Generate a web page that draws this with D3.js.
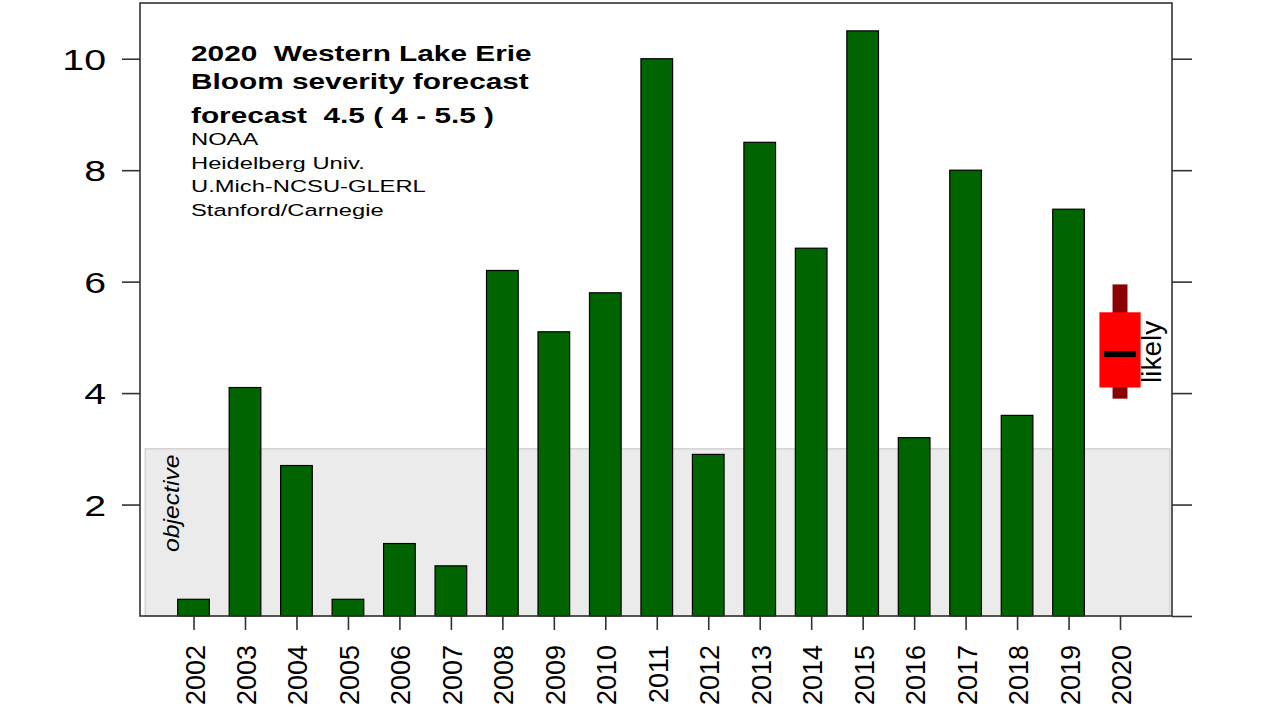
<!DOCTYPE html>
<html>
<head>
<meta charset="utf-8">
<script src="https://cdn.jsdelivr.net/npm/d3@7"></script>
<style>
  html, body { margin: 0; padding: 0; background: #fff; }
  svg { display: block; font-family: "Liberation Sans", Arial, Helvetica, sans-serif; }
  text { white-space: pre; }
</style>
</head>
<body>
<svg id="chart" width="1280" height="720"></svg>
<script>
// ---- data ----
const years = ["2002","2003","2004","2005","2006","2007","2008","2009","2010","2011","2012","2013","2014","2015","2016","2017","2018","2019","2020"];
const severity = [0.3, 4.1, 2.7, 0.3, 1.3, 0.9, 6.2, 5.1, 5.8, 10.0, 2.9, 8.5, 6.6, 10.5, 3.2, 8.0, 3.6, 7.3];
const forecastYear = "2020";
const forecastValue = 4.7;
const forecastRange = [3.9, 5.95];
const likelyRange = [4.1, 5.45];
const objective = 3;
const yTicksLeft = [2, 4, 6, 8, 10];
const yTicksRight = [0, 2, 4, 6, 8, 10];
const titleLines = ["2020  Western Lake Erie", "Bloom severity forecast", "forecast  4.5 ( 4 - 5.5 )"];
const creditLines = ["NOAA", "Heidelberg Univ.", "U.Mich-NCSU-GLERL", "Stanford/Carnegie"];

(function () {
// ---- layout ----
const svg = d3.select("#chart");
const pL = 140, pR = 1172, pT = 3, pB = 616;
const x = d3.scaleLinear().domain([-1.04, 19.01]).range([pL, pR]);
const y = d3.scaleLinear().domain([0, 11]).range([pB, pT]);
const barW = x(0.615) - x(0);
const idx = years.map((d, i) => i);

// objective band
svg.append("rect")
  .attr("x", x(-0.94)).attr("y", y(objective))
  .attr("width", x(18.97) - x(-0.94)).attr("height", y(0) - y(objective))
  .attr("fill", "#ebebeb").attr("stroke", "#c4c4c4").attr("stroke-width", 1);

// bars
svg.append("g").selectAll("rect").data(severity).join("rect")
  .attr("x", (d, i) => x(i) - barW / 2)
  .attr("y", d => y(d))
  .attr("width", barW)
  .attr("height", d => y(0) - y(d))
  .attr("fill", "#006400")
  .attr("stroke", "#000").attr("stroke-width", 1.2);

// forecast marker
const fi = years.indexOf(forecastYear);
svg.append("rect")
  .attr("x", x(fi) - (x(0.29) - x(0)) / 2).attr("y", y(forecastRange[1]))
  .attr("width", x(0.29) - x(0)).attr("height", y(forecastRange[0]) - y(forecastRange[1]))
  .attr("fill", "#8b0000");
svg.append("rect")
  .attr("x", x(fi) - (x(0.8) - x(0)) / 2).attr("y", y(likelyRange[1]))
  .attr("width", x(0.8) - x(0)).attr("height", y(likelyRange[0]) - y(likelyRange[1]))
  .attr("fill", "#ff0000");
svg.append("line")
  .attr("x1", x(fi) - (x(0.62) - x(0)) / 2).attr("x2", x(fi) + (x(0.62) - x(0)) / 2)
  .attr("y1", y(forecastValue)).attr("y2", y(forecastValue))
  .attr("stroke", "#000").attr("stroke-width", 6);

// frame
svg.append("rect")
  .attr("x", pL).attr("y", pT).attr("width", pR - pL).attr("height", pB - pT)
  .attr("fill", "none").attr("stroke", "#333").attr("stroke-width", 1.6);

// left axis
const gl = svg.append("g").attr("transform", `translate(${pL},0)`)
  .call(d3.axisLeft(y).tickValues(yTicksLeft).tickSize(18).tickFormat(d3.format("d")));
gl.select(".domain").remove();
gl.selectAll("line").attr("stroke", "#333").attr("stroke-width", 1.6);
gl.selectAll("text")
  .attr("x", null).attr("dy", null)
  .attr("text-anchor", "end")
  .attr("font-size", 29.3).attr("fill", "#000")
  .attr("font-family", "Liberation Sans, Arial, sans-serif")
  .attr("transform", "translate(-34,10.5) scale(1.34,1)");

// right axis
const gr = svg.append("g").attr("transform", `translate(${pR},0)`)
  .call(d3.axisRight(y).tickValues(yTicksRight).tickSize(20).tickFormat(""));
gr.select(".domain").remove();
gr.selectAll("line").attr("stroke", "#333").attr("stroke-width", 1.6);

// bottom axis
const gb = svg.append("g").attr("transform", `translate(0,${pB})`)
  .call(d3.axisBottom(x).tickValues(idx).tickSize(14).tickFormat(i => years[i]));
gb.select(".domain").remove();
gb.selectAll("line").attr("stroke", "#333").attr("stroke-width", 1.6);
gb.selectAll("text")
  .attr("y", null).attr("dy", null)
  .attr("text-anchor", "end")
  .attr("font-size", 27).attr("fill", "#000")
  .attr("font-family", "Liberation Sans, Arial, sans-serif")
  .attr("transform", "translate(10.5,29) rotate(-90)");

// objective label
svg.append("text")
  .attr("transform", `translate(178.5,552) rotate(-90) scale(1.15,1)`)
  .attr("font-size", 21.5).attr("font-style", "italic").attr("fill", "#000")
  .text("objective");

// likely label
svg.append("text")
  .attr("transform", `translate(1161,383) rotate(-90)`)
  .attr("font-size", 28).attr("fill", "#000")
  .text("likely");

// title block
const titleBase = [61, 89, 123];
svg.append("g").selectAll("text").data(titleLines).join("text")
  .attr("transform", (d, i) => `translate(191,${titleBase[i]}) scale(1.38,1)`)
  .attr("font-size", 21.6).attr("font-weight", "bold").attr("fill", "#000")
  .text(d => d);
const creditBase = [145, 168.5, 192, 215.5];
svg.append("g").selectAll("text").data(creditLines).join("text")
  .attr("transform", (d, i) => `translate(191,${creditBase[i]}) scale(1.44,1)`)
  .attr("font-size", 16.5).attr("fill", "#000")
  .text(d => d);
})();
</script>
</body>
</html>
